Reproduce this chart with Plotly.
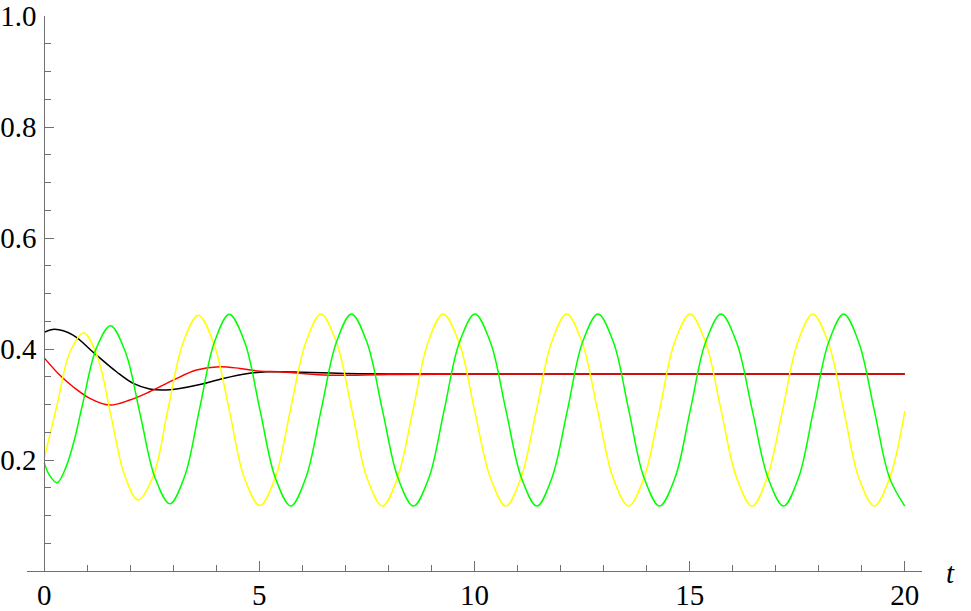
import plotly.graph_objects as go

# values
black_t = [0, 0.245, 0.67, 1.17, 1.68, 2.07, 2.45, 2.76, 3.15, 3.62, 4.16, 4.7, 5.17, 5.48, 6.0, 7.0, 8.0, 10.0, 15.0, 20.0]
black_y = [0.430, 0.4355, 0.425, 0.392, 0.359, 0.338, 0.328, 0.326, 0.329, 0.336, 0.347, 0.3555, 0.359, 0.359, 0.358, 0.356, 0.355, 0.355, 0.355, 0.355]

red_t = [0, 0.36, 0.67, 1.06, 1.52, 1.99, 2.45, 3.0, 3.54, 4.08, 4.55, 5.01, 5.48, 6.5, 8.0, 10.0, 15.0, 20.0]
red_y = [0.384, 0.353, 0.332, 0.311, 0.299, 0.308, 0.323, 0.344, 0.362, 0.368, 0.365, 0.360, 0.359, 0.353, 0.354, 0.355, 0.355, 0.355]

yellow_t = [0, 0.3, 0.6, 0.92, 1.24, 1.55, 1.87, 2.18, 2.53, 2.88, 3.23, 3.58, 3.94, 4.3, 4.65, 5.01,
            5.37, 5.72, 6.08, 6.43, 6.79, 7.15, 7.5, 7.86, 8.21, 8.57, 8.92, 9.27, 9.64, 10.0, 10.37, 10.73,
            11.08, 11.44, 11.79, 12.14, 12.5, 12.86, 13.22, 13.58, 13.94, 14.3, 14.65, 15.01, 15.37, 15.73,
            16.09, 16.45, 16.8, 17.16, 17.51, 17.86, 18.22, 18.58, 18.93, 19.29, 19.65, 20.0]
yellow_y = [0.203, 0.30, 0.395, 0.429, 0.385, 0.28, 0.172, 0.128, 0.17, 0.293, 0.412, 0.461, 0.41, 0.29, 0.168, 0.118,
            0.168, 0.29, 0.412, 0.463, 0.412, 0.29, 0.168, 0.117, 0.168, 0.29, 0.412, 0.463, 0.412, 0.29, 0.168, 0.117,
            0.168, 0.29, 0.412, 0.463, 0.412, 0.29, 0.168, 0.117, 0.168, 0.29, 0.412, 0.463, 0.412, 0.29,
            0.168, 0.117, 0.168, 0.29, 0.412, 0.463, 0.412, 0.29, 0.168, 0.117, 0.168, 0.288]

green_t = [0, 0.12, 0.30, 0.51, 0.70, 0.89, 1.215, 1.54, 1.885, 2.23, 2.575, 2.92, 3.265, 3.61, 3.955, 4.30, 4.66, 5.015, 5.37, 5.73,
           6.08, 6.435, 6.79, 7.14, 7.5, 7.86, 8.22, 8.58, 8.94, 9.295, 9.65, 10.01, 10.37, 10.73, 11.09, 11.45,
           11.8, 12.16, 12.51, 12.87, 13.23, 13.585, 13.94, 14.30, 14.66, 15.015, 15.37, 15.73, 16.09, 16.455,
           16.82, 17.18, 17.53, 17.88, 18.23, 18.58, 18.93, 19.29, 19.645, 20.0]
green_y = [0.195, 0.173, 0.159, 0.188, 0.236, 0.300, 0.402, 0.442, 0.395, 0.282, 0.168, 0.121, 0.171, 0.292, 0.412, 0.4625, 0.412, 0.29, 0.168, 0.117,
           0.168, 0.29, 0.412, 0.463, 0.412, 0.29, 0.168, 0.117, 0.168, 0.29, 0.412, 0.463, 0.412, 0.29, 0.168, 0.117,
           0.168, 0.29, 0.412, 0.463, 0.412, 0.29, 0.168, 0.117, 0.168, 0.29, 0.412, 0.463, 0.412, 0.29,
           0.168, 0.117, 0.168, 0.29, 0.412, 0.463, 0.412, 0.29, 0.168, 0.117]

x_ticks = [0, 5, 10, 15, 20]
y_ticks = [0.2, 0.4, 0.6, 0.8, 1.0]
y_ticktext = ["0.2", "0.4", "0.6", "0.8", "1.0"]

series = [
    (black_t, black_y, "black"),
    (red_t, red_y, "#ff0000"),
    (yellow_t, yellow_y, "#ffff00"),
    (green_t, green_y, "#00ff00"),
]

fig = go.Figure()
for t, y, color in series:
    fig.add_trace(go.Scatter(x=t, y=y, mode="lines", line=dict(color=color, width=1.5, shape="spline"),
                             showlegend=False, hoverinfo="skip"))

axis_color = "#707070"
font = dict(family="Liberation Serif", size=29, color="black")

fig.update_xaxes(
    range=[-0.4, 20.4], showgrid=False, zeroline=False, automargin=False,
    showline=True, linecolor=axis_color, linewidth=1,
    tickmode="array", tickvals=x_ticks, ticks="inside", ticklen=10, tickcolor=axis_color,
    ticklabelstandoff=-2,
    minor=dict(dtick=1, tick0=0, ticks="inside", ticklen=6, tickcolor=axis_color),
    tickfont=font,
)
fig.update_yaxes(
    range=[0, 1.0], showgrid=False, zeroline=False, automargin=False,
    anchor="free", position=0.4 / 20.8,
    showline=True, linecolor=axis_color, linewidth=1,
    tickmode="array", tickvals=y_ticks, ticktext=y_ticktext,
    ticks="inside", ticklen=9, tickcolor=axis_color, ticklabelstandoff=2,
    minor=dict(dtick=0.05, tick0=0, ticks="inside", ticklen=6, tickcolor=axis_color),
    tickfont=font,
)

# axis name at the right end of the t axis
fig.add_annotation(x=(950 - 27) / 895, y=0, xref="paper", yref="paper", text="<i>t</i>", showarrow=False,
                   font=font, xanchor="center", yanchor="middle", yshift=-2)

fig.update_layout(
    width=971, height=611,
    margin=dict(l=27, r=49, t=16, b=40),
    plot_bgcolor="white", paper_bgcolor="white",
)

# drop the default 8px page margin so the figure sits at the window's corner
fig.write_html("out.html", config={"displayModeBar": False},
               post_script="document.body.style.margin='0';")
